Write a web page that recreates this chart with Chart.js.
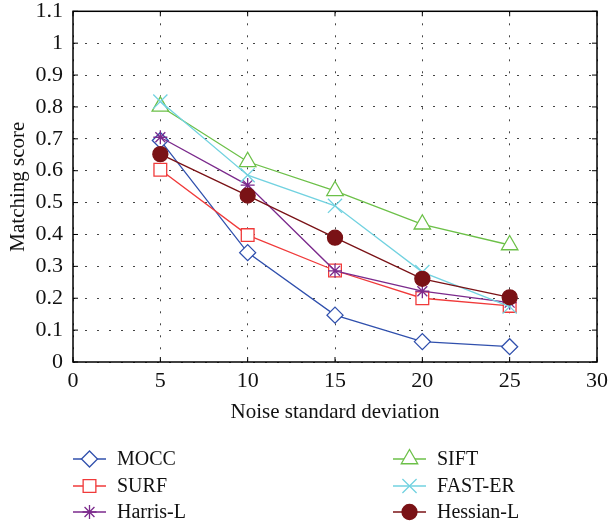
<!DOCTYPE html>
<html>
<head>
<meta charset="utf-8">
<script src="https://cdn.jsdelivr.net/npm/chart.js@4.4.1/dist/chart.umd.min.js"></script>
<style>
  html, body { margin: 0; padding: 0; background: #fff; }
  #wrap { width: 614px; height: 527px; }
</style>
</head>
<body>
<div id="wrap"><canvas id="scoreChart" width="614" height="527"></canvas></div>
<script>
// noise levels (x) and matching score per detector
const noiseLevels = [5, 10, 15, 20, 25];
const mocc = [0.695, 0.343, 0.147, 0.064, 0.048];
const surf = [0.603, 0.398, 0.287, 0.200, 0.176];
const harrisL = [0.705, 0.555, 0.286, 0.222, 0.186];
const sift = [0.802, 0.628, 0.537, 0.432, 0.367];
const fastEr = [0.817, 0.586, 0.490, 0.282, 0.174];
const hessianL = [0.652, 0.522, 0.390, 0.261, 0.203];

const seriesNames = ["MOCC", "SURF", "Harris-L", "SIFT", "FAST-ER", "Hessian-L"];
const seriesValues = [mocc, surf, harrisL, sift, fastEr, hessianL];
const yTicks = [0, 0.1, 0.2, 0.3, 0.4, 0.5, 0.6, 0.7, 0.8, 0.9, 1, 1.1];

const styles = [
  { color: "#3050ad", point: "rectRot", radius: 8, fill: "#ffffff" },
  { color: "#f03a3a", point: "rect", radius: 9, fill: "#ffffff" },
  { color: "#7b2a8c", point: "star", radius: 7, fill: "#7b2a8c" },
  { color: "#6cc048", point: "triangle", radius: 9.5, fill: "#ffffff" },
  { color: "#72d2e0", point: "crossRot", radius: 10, fill: "#ffffff" },
  { color: "#7a1216", point: "circle", radius: 7.5, fill: "#7a1216" },
];

const serif = "'Liberation Serif', 'DejaVu Serif', serif";

const datasets = seriesNames.map((name, i) => ({
  label: name,
  data: noiseLevels.map((x, j) => ({ x: x, y: seriesValues[i][j] })),
  borderColor: styles[i].color,
  backgroundColor: styles[i].fill,
  borderWidth: 1.3,
  pointStyle: styles[i].point,
  pointRadius: styles[i].radius,
  pointBorderWidth: 1.3,
  pointBackgroundColor: styles[i].fill,
  pointBorderColor: styles[i].color,
  order: seriesNames.length - i,
  tension: 0,
}));

// frame, inward ticks and the two-column legend underneath
const framePlugin = {
  id: "frame",
  afterDraw(chart) {
    const { ctx, chartArea: a, scales } = chart;
    ctx.save();
    ctx.strokeStyle = "#000";
    ctx.lineWidth = 1.5;
    ctx.strokeRect(a.left, a.top, a.right - a.left, a.bottom - a.top);

    ctx.lineWidth = 1;
    ctx.beginPath();
    scales.x.ticks.forEach(t => {
      const px = scales.x.getPixelForValue(t.value);
      ctx.moveTo(px, a.bottom); ctx.lineTo(px, a.bottom - 5);
      ctx.moveTo(px, a.top); ctx.lineTo(px, a.top + 5);
    });
    scales.y.ticks.forEach(t => {
      const py = scales.y.getPixelForValue(t.value);
      ctx.moveTo(a.left, py); ctx.lineTo(a.left + 5, py);
      ctx.moveTo(a.right, py); ctx.lineTo(a.right - 5, py);
    });
    ctx.stroke();

    const colX = [73, 393];
    const rowY = [459, 486, 512];
    ctx.font = "20px " + serif;
    ctx.textBaseline = "middle";
    ctx.textAlign = "left";
    chart.data.datasets.forEach((ds, i) => {
      const x0 = colX[Math.floor(i / 3)];
      const y = rowY[i % 3];
      ctx.strokeStyle = ds.borderColor;
      ctx.lineWidth = ds.borderWidth;
      ctx.beginPath();
      ctx.moveTo(x0, y); ctx.lineTo(x0 + 33, y);
      ctx.stroke();
      ctx.fillStyle = ds.pointBackgroundColor;
      ctx.lineWidth = ds.pointBorderWidth;
      Chart.helpers.drawPoint(ctx, {
        pointStyle: ds.pointStyle,
        radius: ds.pointRadius,
        rotation: 0,
        borderWidth: ds.pointBorderWidth,
      }, x0 + 16.5, y);
      ctx.fillStyle = "#111";
      ctx.fillText(ds.label, x0 + 44, y + 1);
    });
    ctx.restore();
  },
};

const ctx = document.getElementById("scoreChart").getContext("2d");
new Chart(ctx, {
  type: "line",
  data: { datasets: datasets },
  options: {
    responsive: false,
    animation: false,
    events: [],
    layout: { padding: { top: 11, right: 12, left: 0, bottom: 100 } },
    plugins: { legend: { display: false }, tooltip: { enabled: false } },
    scales: {
      x: {
        type: "linear",
        min: 0,
        max: 30,
        ticks: { stepSize: 5, color: "#111", padding: 6, font: { family: serif, size: 22 } },
        grid: { color: "#444", lineWidth: 1, drawTicks: false },
        border: { display: false, dash: [2, 10] },
        title: {
          display: true,
          text: "Noise standard deviation",
          color: "#111",
          font: { family: serif, size: 21 },
          padding: { top: 0, bottom: 2 },
        },
        afterFit(scale) { scale.height = 65; },
      },
      y: {
        min: 0,
        max: 1.1,
        afterBuildTicks(scale) { scale.ticks = yTicks.map(v => ({ value: v })); },
        ticks: {
          color: "#111",
          padding: 10,
          font: { family: serif, size: 22 },
          callback: v => String(Math.round(v * 10) / 10),
        },
        grid: { color: "#444", lineWidth: 1, drawTicks: false },
        border: { display: false, dash: [2, 10] },
        title: {
          display: true,
          text: "Matching score",
          color: "#111",
          font: { family: serif, size: 21 },
          padding: { top: 6, bottom: 0 },
        },
        afterFit(scale) {
          scale.width = 73;
          // let the top label sit above the plot edge
          scale.paddingTop = 0;
          scale.paddingBottom = 0;
        },
      },
    },
  },
  plugins: [framePlugin],
});
</script>
</body>
</html>
